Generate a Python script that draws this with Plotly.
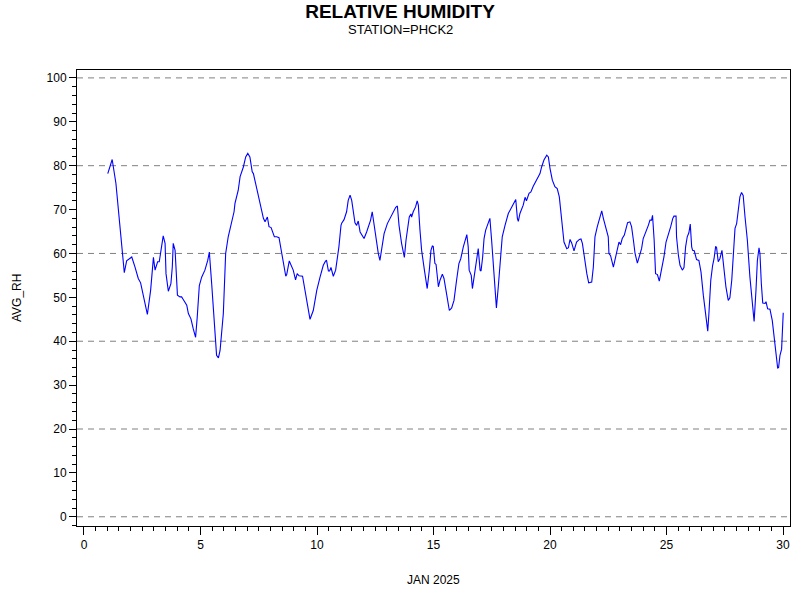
import plotly.graph_objects as go

# Day of January 2025 (fractional) and average relative humidity (%)
days = [
1.02,1.21,1.37,1.545,1.73,1.83,1.97,2.05,2.19,2.33,2.43,2.58,2.72,2.86,2.98,3.05,3.16,3.23,3.30,3.40,
3.48,3.52,3.62,3.73,3.79,3.83,3.91,4.01,4.12,4.19,4.26,4.41,4.48,4.59,4.69,4.79,4.86,4.95,5.05,5.19,
5.31,5.38,5.48,5.59,5.69,5.77,5.84,5.98,6.08,6.19,6.34,6.44,6.48,6.62,6.70,6.84,6.94,7.03,7.12,7.22,
7.27,7.41,7.55,7.70,7.77,7.87,7.94,8.03,8.17,8.27,8.37,8.48,8.66,8.70,8.81,8.98,9.08,9.15,9.23,9.38,
9.55,9.70,9.84,9.99,10.13,10.27,10.37,10.41,10.49,10.54,10.60,10.70,10.80,10.87,10.94,11.03,11.06,11.16,11.27,11.34,
11.42,11.49,11.56,11.63,11.70,11.77,11.85,11.92,12.02,12.13,12.23,12.30,12.37,12.45,12.53,12.63,12.70,12.78,12.88,13.02,
13.13,13.27,13.38,13.45,13.52,13.63,13.75,13.82,13.89,13.96,14.03,14.06,14.13,14.23,14.30,14.35,14.42,14.49,14.61,14.73,
14.82,14.89,14.95,14.99,15.06,15.11,15.21,15.28,15.38,15.45,15.57,15.68,15.78,15.88,15.99,16.09,16.17,16.28,16.43,16.49,
16.53,16.62,16.67,16.75,16.85,16.92,17.00,17.04,17.11,17.17,17.24,17.35,17.42,17.50,17.60,17.70,17.78,17.88,17.95,18.07,
18.14,18.21,18.36,18.45,18.53,18.60,18.64,18.71,18.85,18.93,18.99,19.10,19.18,19.28,19.43,19.57,19.64,19.74,19.86,19.93,
20.00,20.10,20.21,20.31,20.40,20.50,20.60,20.72,20.79,20.86,20.93,21.03,21.14,21.26,21.33,21.39,21.48,21.58,21.66,21.79,
21.86,21.93,22.03,22.15,22.22,22.29,22.36,22.43,22.50,22.53,22.60,22.72,22.82,22.89,22.96,23.03,23.10,23.19,23.26,23.33,
23.43,23.50,23.58,23.65,23.75,23.86,23.93,24.00,24.12,24.22,24.29,24.36,24.40,24.47,24.53,24.61,24.69,24.79,24.89,24.98,
25.08,25.18,25.27,25.32,25.41,25.43,25.51,25.58,25.68,25.75,25.82,25.89,25.96,26.02,26.08,26.12,26.19,26.29,26.39,26.48,
26.58,26.68,26.77,26.82,26.90,26.98,27.04,27.11,27.15,27.22,27.29,27.38,27.47,27.55,27.65,27.72,27.80,27.87,27.94,28.01,
28.08,28.15,28.22,28.29,28.37,28.47,28.58,28.68,28.76,28.84,28.90,28.97,29.01,29.07,29.13,29.23,29.27,29.34,29.44,29.54,
29.63,29.70,29.77,29.81,29.87,29.94,30.01]

avg_rh = [
78.2,81.4,76.0,66.0,55.6,58.3,58.8,59.2,56.9,54.3,53.3,49.3,46.1,51.6,59.1,56.2,58.1,58.1,60.7,64.0,
62.3,55.4,51.4,53.1,56.9,62.3,60.7,50.5,50.1,50.1,49.5,48.2,46.3,45.1,42.8,40.9,45.5,52.7,54.6,56.2,
58.4,60.3,53.1,44.0,36.8,36.2,37.9,46.3,60.0,63.8,67.2,69.5,71.4,74.4,77.5,79.7,82.0,82.8,82.0,78.6,
78.2,74.8,71.8,68.0,67.2,68.3,66.1,65.9,63.8,63.8,63.6,60.0,54.8,55.2,58.3,56.2,54.0,55.4,54.9,54.8,
49.3,45.0,47.0,51.6,54.6,57.3,58.3,58.4,56.0,56.0,56.8,54.8,56.2,58.4,61.5,66.4,66.9,67.7,69.5,72.1,
73.3,72.1,69.1,67.0,66.4,67.4,64.9,64.3,63.4,64.9,66.4,67.6,69.5,66.8,63.0,60.0,58.4,61.5,64.5,66.8,
68.0,69.5,70.5,70.8,66.4,62.3,59.1,63.0,66.4,68.3,69.0,68.3,69.5,70.6,72.0,71.0,65.3,60.7,56.2,52.0,
56.2,60.7,61.7,61.6,57.7,57.5,52.4,53.9,55.3,54.3,50.5,47.0,47.6,49.3,53.9,57.7,58.8,61.5,64.3,61.5,
56.2,55.0,52.0,55.0,58.4,61.1,56.2,56.0,59.2,63.4,65.3,66.8,68.0,62.6,54.6,47.6,52.4,59.2,63.8,66.4,
67.6,69.1,70.6,71.4,72.3,68.0,67.3,69.1,71.0,72.8,72.0,73.7,74.0,75.3,76.7,78.2,79.7,81.3,82.4,82.0,
79.4,76.7,75.2,74.8,72.9,67.6,62.6,61.1,61.3,63.2,62.4,60.6,62.6,63.2,63.3,62.3,58.4,55.4,53.3,53.5,
56.9,63.8,66.1,68.7,69.7,68.0,66.4,65.3,63.8,60.0,59.5,56.9,59.2,61.5,62.6,62.0,63.4,64.2,65.7,67.0,
67.2,66.1,63.0,60.0,57.8,59.6,61.1,63.4,64.9,66.4,67.6,67.6,68.7,63.0,55.4,55.2,53.7,56.2,59.2,62.6,
64.2,66.1,68.0,68.5,68.5,63.8,59.6,57.3,56.2,56.8,61.5,63.8,64.7,66.7,61.5,60.7,60.6,58.6,58.4,55.8,
50.5,45.9,42.3,46.3,53.9,57.3,58.8,61.6,61.3,58.1,58.8,60.7,56.2,52.4,49.3,49.9,53.9,60.0,65.7,66.8,
70.6,72.9,73.9,73.2,68.3,63.0,54.6,48.6,44.5,51.6,58.4,61.3,60.0,53.1,48.7,48.6,49.0,47.4,47.3,44.7,
40.9,37.1,33.9,34.0,36.8,38.2,46.5]

x_ticks = [0, 5, 10, 15, 20, 25, 30]
y_ticks = [0, 10, 20, 30, 40, 50, 60, 70, 80, 90, 100]
grid_levels = [0, 20, 40, 60, 80, 100]

FONT = "Arial, Liberation Sans, Helvetica, sans-serif"

fig = go.Figure()
fig.add_trace(go.Scatter(x=days, y=avg_rh, mode="lines",
                         line=dict(color="#0000FF", width=1.1),
                         hoverinfo="x+y", showlegend=False))

for g in grid_levels:
    fig.add_shape(type="line", xref="paper", x0=0, x1=1, yref="y", y0=g, y1=g,
                  line=dict(color="#808080", width=1, dash="6px,5px"), layer="below")

fig.update_layout(
    width=800, height=600,
    paper_bgcolor="white", plot_bgcolor="white",
    margin=dict(l=77, r=10, t=70, b=74),
    font=dict(family=FONT, size=12, color="black"),
    xaxis=dict(range=[-0.3, 30.3], tickvals=x_ticks, ticks="outside", ticklen=8,
               tickwidth=1, tickcolor="black", showgrid=False, zeroline=False,
               showline=True, linecolor="black", linewidth=1, mirror=True,
               minor=dict(dtick=0.5, tick0=0, ticks="outside", ticklen=4,
                          tickcolor="black", showgrid=False),
               tickfont=dict(size=12), automargin=False),
    yaxis=dict(range=[-2.1, 101.8], tickvals=y_ticks, ticks="outside", ticklen=7,
               tickwidth=1, tickcolor="black", showgrid=False, zeroline=False,
               showline=True, linecolor="black", linewidth=1, mirror=True,
               minor=dict(dtick=2, tick0=0, ticks="outside", ticklen=4,
                          tickcolor="black", showgrid=False),
               tickfont=dict(size=12), automargin=False),
    title=dict(text="<b>RELATIVE HUMIDITY</b>", x=0.5, xref="container",
               y=1 - 11 / 600, yref="container", yanchor="middle", xanchor="center",
               font=dict(family=FONT, size=19, color="black")),
    annotations=[
        dict(text="STATION=PHCK2", xref="paper", yref="paper",
             x=(400 - 77) / 713, y=(526 - 30) / 456, xanchor="center", yanchor="middle",
             showarrow=False, font=dict(family=FONT, size=13)),
        dict(text="AVG_RH", xref="paper", yref="paper", x=0, xshift=-60,
             y=0.5, xanchor="center", yanchor="middle", textangle=-90,
             showarrow=False, font=dict(family=FONT, size=12)),
        dict(text="JAN 2025", xref="paper", yref="paper", x=0.5,
             y=0, yshift=-54, xanchor="center", yanchor="middle",
             showarrow=False, font=dict(family=FONT, size=12)),
    ],
)

fig.write_html("out.html",
               config={"displayModeBar": False},
               post_script="document.body.style.margin='0';document.body.style.overflow='hidden';")
